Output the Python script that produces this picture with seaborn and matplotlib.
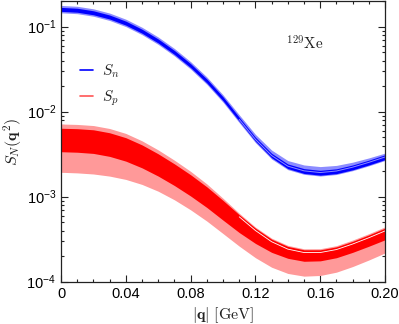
import numpy as np
import matplotlib
matplotlib.use("Agg")
import matplotlib.pyplot as plt
from matplotlib.font_manager import FontProperties
from matplotlib.lines import Line2D
from matplotlib.ticker import FixedLocator, MultipleLocator, LogLocator, NullFormatter
import seaborn as sns

# momentum transfer |q| in GeV
q = [0.00, 0.01, 0.02, 0.03, 0.04, 0.05, 0.06, 0.07, 0.08, 0.09, 0.10,
     0.11, 0.12, 0.13, 0.14, 0.15, 0.16, 0.17, 0.18, 0.19, 0.20]

# S_n: log10 of the band middle, and band half widths in decades
sn_mid = [-0.795, -0.805, -0.835, -0.885, -0.957, -1.052, -1.167, -1.302, -1.457, -1.637, -1.847,
          -2.087, -2.322, -2.512, -2.637, -2.692, -2.712, -2.694, -2.649, -2.592, -2.529]
sn_light_up = [0.045, 0.045, 0.045, 0.045, 0.045, 0.045, 0.045, 0.045, 0.045, 0.045, 0.045,
               0.050, 0.055, 0.060, 0.062, 0.065, 0.066, 0.062, 0.055, 0.048, 0.042]
sn_light_dn = [0.042, 0.042, 0.042, 0.042, 0.042, 0.042, 0.042, 0.042, 0.042, 0.042, 0.042,
               0.042, 0.042, 0.045, 0.045, 0.045, 0.045, 0.045, 0.045, 0.045, 0.045]
sn_dark_up = [0.022] * 21
sn_dark_dn = [0.025, 0.025, 0.025, 0.025, 0.025, 0.025, 0.025, 0.025, 0.025, 0.025, 0.025,
              0.025, 0.027, 0.030, 0.033, 0.035, 0.035, 0.035, 0.035, 0.035, 0.035]

# S_p: log10 of the dark band top, dark band width, light band margins (decades)
sp_top = [-2.195, -2.200, -2.213, -2.248, -2.306, -2.391, -2.496, -2.614, -2.742, -2.884, -3.044,
          -3.212, -3.370, -3.500, -3.585, -3.625, -3.625, -3.590, -3.525, -3.450, -3.370]
sp_dark_width = [0.276, 0.277, 0.278, 0.278, 0.276, 0.270, 0.262, 0.255, 0.250, 0.243, 0.232,
                 0.210, 0.180, 0.155, 0.140, 0.135, 0.130, 0.128, 0.130, 0.133, 0.137]
sp_light_above = [0.050, 0.050, 0.050, 0.050, 0.050, 0.048, 0.046, 0.043, 0.040, 0.034, 0.025,
                  0.017, 0.012, 0.012, 0.012, 0.012, 0.013, 0.014, 0.015, 0.015, 0.015]
sp_light_below = [0.242, 0.243, 0.242, 0.232, 0.215, 0.195, 0.178, 0.168, 0.163, 0.160, 0.158,
                  0.160, 0.168, 0.175, 0.178, 0.175, 0.172, 0.170, 0.167, 0.162, 0.155]

# thin split lines inside the dark bands near the minimum (log10)
q_split = [0.11, 0.12, 0.13, 0.14, 0.15, 0.16, 0.17, 0.18, 0.19, 0.20]
sn_split = [-2.091, -2.326, -2.516, -2.641, -2.696, -2.716, -2.698, -2.653, -2.596, -2.533]
sp_split = [-3.237, -3.398, -3.530, -3.617, -3.657, -3.657, -3.622, -3.557, -3.483, -3.403]

xticks = [0, 0.04, 0.08, 0.12, 0.16, 0.20]
xtick_labels = ["0", "0.04", "0.08", "0.12", "0.16", "0.20"]

sns.set_style("ticks")
plt.rcParams['font.family'] = ['Liberation Sans', 'DejaVu Sans']
plt.rcParams['mathtext.fontset'] = 'custom'
plt.rcParams['mathtext.rm'] = 'Liberation Sans'

blue, blue_l = '#0000ff', '#8c8cff'
red, red_l = '#ff0000', '#ff9999'
ink = '#222222'

fig = plt.figure(figsize=(3.99, 3.24), dpi=100)
ax = fig.add_axes([0.153, 0.1306, 0.812, 0.866])
ax.set_yscale('log')

def band(lo, hi, color):
    ax.fill_between(q, 10 ** np.asarray(lo), 10 ** np.asarray(hi), color=color, lw=0)

mid = np.array(sn_mid)
band(mid - sn_light_dn, mid + sn_light_up, blue_l)
band(mid - sn_dark_dn, mid + sn_dark_up, blue)

top = np.array(sp_top)
bot = top - sp_dark_width
band(bot - sp_light_below, top + sp_light_above, red_l)
band(bot, top, red)

sns.lineplot(x=q_split, y=10 ** np.array(sn_split), color=blue_l, lw=0.7, ax=ax)
sns.lineplot(x=q_split, y=10 ** np.array(sp_split), color='white', lw=0.6, ax=ax)

ax.set_xlim(0, 0.2)
ax.set_ylim(1e-4, 0.2)
ax.xaxis.set_major_locator(FixedLocator(xticks))
ax.set_xticklabels(xtick_labels)
ax.xaxis.set_minor_locator(MultipleLocator(0.01))
ax.yaxis.set_major_locator(LogLocator(base=10, numticks=10))
ax.yaxis.set_minor_locator(LogLocator(base=10, subs=np.arange(2, 10), numticks=10))
ax.yaxis.set_minor_formatter(NullFormatter())
ax.tick_params(which='both', direction='in', top=True, right=True, colors=ink,
               labelsize=10.5, labelcolor='black')
ax.tick_params(which='major', length=5, width=0.8)
ax.tick_params(which='minor', length=2.5, width=0.8)
for s in ax.spines.values():
    s.set_color(ink)
    s.set_linewidth(0.9)

ax.set_xlabel(r'$|\mathbf{q}|\ \mathrm{[GeV]}$', fontsize=11.5, color=ink,
              math_fontfamily='cm', labelpad=3)
ax.set_ylabel(r'$S_N(\mathbf{q}^2)$', fontsize=11.5, color=ink,
              math_fontfamily='cm', labelpad=2)

ax.text(0.1506, 0.064, r'$^{129}\mathrm{Xe}$', fontsize=11, color=ink,
        math_fontfamily='cm', ha='center', va='center')

handles = [Line2D([], [], color=blue, lw=1.2), Line2D([], [], color='#ff5555', lw=1.2)]
ax.legend(handles, [r'$S_n$', r'$S_p$'], loc='center left', bbox_to_anchor=(0.06, 0.70),
          frameon=False, borderpad=0, borderaxespad=0, handlelength=0.85,
          handletextpad=0.55, labelspacing=0.6, labelcolor=ink,
          prop=FontProperties(size=11, math_fontfamily='cm'))

fig.savefig('out.png', dpi=100)
